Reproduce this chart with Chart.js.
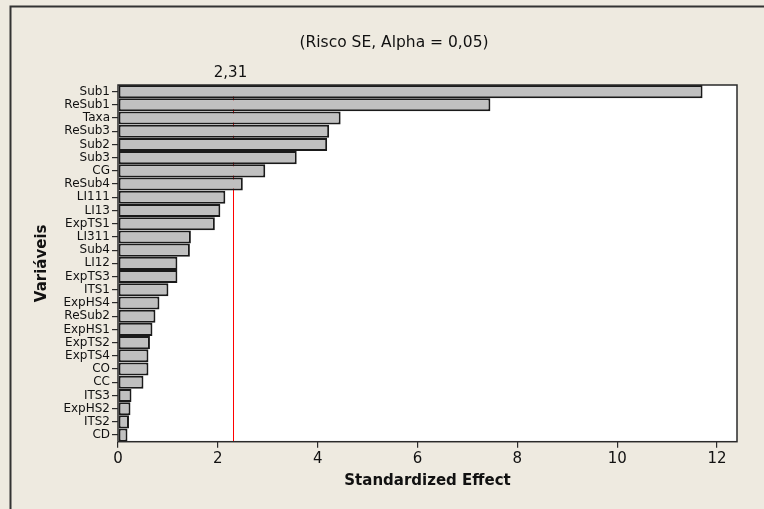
<!DOCTYPE html>
<html>
<head>
<meta charset="utf-8">
<title>Pareto dos efeitos padronizados</title>
<script src="https://cdn.jsdelivr.net/npm/chart.js@4.4.1/dist/chart.umd.min.js"></script>
<style>
  html, body { margin: 0; padding: 0; background: #EEEAE0; }
  #wrap { width: 764px; height: 509px; position: relative; }
</style>
</head>
<body>
<div id="wrap"><canvas id="c" width="764" height="509"></canvas></div>
<script>
// Termos do modelo, ordenados pelo efeito padronizado
const variaveis = ['Sub1','ReSub1','Taxa','ReSub3','Sub2','Sub3','CG','ReSub4','LI111','LI13','ExpTS1','LI311','Sub4','LI12','ExpTS3','ITS1','ExpHS4','ReSub2','ExpHS1','ExpTS2','ExpTS4','CO','CC','ITS3','ExpHS2','ITS2','CD'];
const efeitos = [11.71, 7.46, 4.46, 4.23, 4.19, 3.58, 2.95, 2.50, 2.15, 2.05, 1.94, 1.46, 1.44, 1.19, 1.19, 1.01, 0.83, 0.75, 0.69, 0.64, 0.61, 0.61, 0.51, 0.27, 0.25, 0.22, 0.19];
const limiteCritico = 2.31;
const limiteTexto = '2,31';
const tituloGrafico = '(Risco SE, Alpha = 0,05)';
const eixoXTicks = [0, 2, 4, 6, 8, 10, 12];

const FONT = 'DejaVu Sans';
const DARK = '#2a2a2a';

// moldura, fundo branco da área do gráfico, linha de referência e textos
const decor = {
  id: 'decor',
  beforeDraw(chart) {
    const { ctx, chartArea: a } = chart;
    ctx.save();
    ctx.fillStyle = '#EEEAE0';
    ctx.fillRect(0, 0, chart.width, chart.height);
    // moldura externa (superior e esquerda)
    ctx.strokeStyle = '#333333';
    ctx.lineWidth = 2;
    ctx.beginPath();
    ctx.moveTo(10.5, chart.height);
    ctx.lineTo(10.5, 6.5);
    ctx.lineTo(chart.width, 6.5);
    ctx.stroke();
    ctx.fillStyle = '#ffffff';
    ctx.fillRect(a.left, a.top, a.right - a.left, a.bottom - a.top);
    ctx.restore();
  },
  beforeDatasetsDraw(chart) {
    // linha do valor crítico, por trás das barras
    const { ctx, chartArea: a, scales: { x } } = chart;
    const px = Math.round(x.getPixelForValue(limiteCritico)) + 0.5;
    ctx.save();
    ctx.strokeStyle = '#FF0000';
    ctx.lineWidth = 1;
    ctx.beginPath();
    ctx.moveTo(px, a.top);
    ctx.lineTo(px, a.bottom);
    ctx.stroke();
    ctx.restore();
  },
  afterDatasetsDraw(chart) {
    const { ctx, chartArea: a, scales: { x } } = chart;
    const px = Math.round(x.getPixelForValue(limiteCritico)) + 0.5;
    ctx.save();
    // contorno da área do gráfico
    ctx.strokeStyle = DARK;
    ctx.lineWidth = 1.5;
    ctx.strokeRect(a.left, a.top, a.right - a.left, a.bottom - a.top);
    ctx.fillStyle = '#111111';
    ctx.textAlign = 'center';
    ctx.textBaseline = 'middle';
    ctx.font = '15px "' + FONT + '"';
    ctx.fillText(limiteTexto, px - 3, 73);
    ctx.font = '15.5px "' + FONT + '"';
    ctx.fillText(tituloGrafico, 394, 43);
    ctx.restore();
  }
};

new Chart(document.getElementById('c'), {
  type: 'bar',
  data: {
    labels: variaveis,
    datasets: [{
      data: efeitos,
      backgroundColor: '#C0C0C0',
      borderColor: '#1a1a1a',
      borderWidth: 2,
      borderSkipped: false,
      barPercentage: 0.99,
      categoryPercentage: 1
    }]
  },
  options: {
    indexAxis: 'y',
    responsive: false,
    animation: false,
    layout: { padding: { top: 85, right: 27, bottom: 0, left: 0 } },
    plugins: { legend: { display: false }, tooltip: { enabled: false }, title: { display: false } },
    scales: {
      x: {
        type: 'linear',
        min: 0,
        max: 12.4,
        afterFit(s) { s.height = 67.3; },
        afterBuildTicks(s) { s.ticks = eixoXTicks.map(v => ({ value: v })); },
        ticks: {
          font: { family: FONT, size: 15 },
          color: '#111111',
          padding: 2,
          maxRotation: 0
        },
        grid: { drawOnChartArea: false, drawTicks: true, tickLength: 6, tickColor: DARK, lineWidth: 1.2 },
        border: { display: false },
        title: {
          display: true,
          text: 'Standardized Effect',
          font: { family: FONT, size: 15, weight: 'bold' },
          color: '#111111',
          padding: { top: 0, bottom: 19 }
        }
      },
      y: {
        type: 'category',
        afterFit(s) { s.width = 118; },
        ticks: {
          font: { family: FONT, size: 12 },
          color: '#111111',
          padding: 2,
          autoSkip: false
        },
        grid: { drawOnChartArea: false, drawTicks: true, tickLength: 6, tickColor: DARK, lineWidth: 1.2, offset: false },
        border: { display: false },
        title: {
          display: true,
          text: 'Variáveis',
          font: { family: FONT, size: 15, weight: 'bold' },
          color: '#111111',
          padding: { top: 32.7, bottom: 0 }
        }
      }
    }
  },
  plugins: [decor]
});
</script>
</body>
</html>
